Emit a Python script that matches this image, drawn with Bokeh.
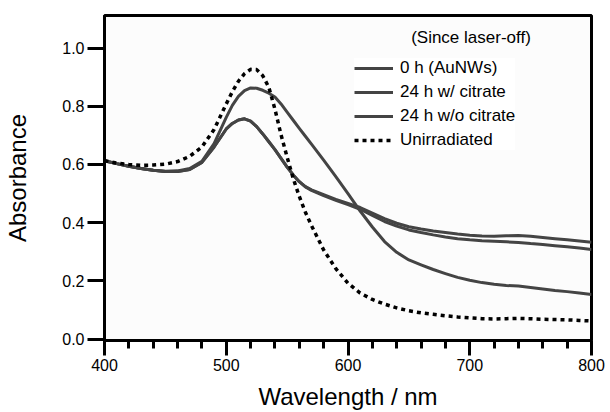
from bokeh.plotting import figure
from bokeh.models import Range1d, FixedTicker, PrintfTickFormatter, Legend, LegendItem, Label
from bokeh.embed import file_html
from bokeh.resources import INLINE

# ---- data ----
wavelength = [400, 410, 420, 430, 440, 450, 460, 470, 480, 490, 500,
              505, 510, 515, 520, 525, 530, 535, 540, 545, 550, 555, 560, 565, 570,
              580, 590, 600, 610, 620, 630, 640, 650, 660, 670, 680, 690, 700,
              710, 720, 730, 740, 750, 760, 770, 780, 790, 800]

abs_0h_aunws = [0.613, 0.603, 0.594, 0.586, 0.580, 0.576, 0.576, 0.583, 0.607, 0.660, 0.722,
                0.741, 0.753, 0.757, 0.749, 0.730, 0.705, 0.678, 0.651, 0.621, 0.591, 0.564, 0.541, 0.524, 0.513,
                0.496, 0.480, 0.466, 0.452, 0.433, 0.414, 0.398, 0.386, 0.378, 0.371, 0.366, 0.361, 0.357,
                0.354, 0.353, 0.355, 0.356, 0.353, 0.349, 0.345, 0.341, 0.337, 0.333]

abs_24h_citrate = [0.613, 0.603, 0.594, 0.586, 0.580, 0.577, 0.578, 0.586, 0.611, 0.672, 0.762,
                   0.803, 0.834, 0.854, 0.863, 0.862, 0.855, 0.845, 0.832, 0.808, 0.780, 0.752, 0.724, 0.697, 0.670,
                   0.615, 0.558, 0.500, 0.440, 0.385, 0.335, 0.298, 0.272, 0.255, 0.239, 0.225, 0.212, 0.202,
                   0.194, 0.188, 0.184, 0.182, 0.177, 0.172, 0.167, 0.163, 0.158, 0.153]

abs_24h_no_citrate = [0.613, 0.603, 0.594, 0.586, 0.580, 0.576, 0.576, 0.583, 0.607, 0.660, 0.722,
                      0.741, 0.753, 0.757, 0.749, 0.730, 0.705, 0.678, 0.651, 0.621, 0.591, 0.564, 0.541, 0.523, 0.511,
                      0.493, 0.477, 0.462, 0.446, 0.425, 0.404, 0.388, 0.375, 0.366, 0.358, 0.351, 0.345, 0.341,
                      0.338, 0.336, 0.334, 0.332, 0.328, 0.325, 0.321, 0.317, 0.313, 0.308]

abs_unirradiated = [0.613, 0.605, 0.600, 0.597, 0.598, 0.601, 0.610, 0.628, 0.660, 0.720, 0.808,
                    0.850, 0.886, 0.912, 0.927, 0.926, 0.905, 0.865, 0.790, 0.702, 0.625, 0.552, 0.490, 0.436, 0.390,
                    0.306, 0.242, 0.192, 0.158, 0.136, 0.120, 0.107, 0.097, 0.090, 0.085, 0.080, 0.076, 0.073,
                    0.070, 0.069, 0.070, 0.071, 0.070, 0.068, 0.067, 0.066, 0.064, 0.062]

series_labels = ["0 h (AuNWs)", "24 h w/ citrate", "24 h w/o citrate", "Unirradiated"]
legend_title = "(Since laser-off)"

x_major_ticks = [400, 500, 600, 700, 800]
x_minor_ticks = [420, 440, 460, 480, 520, 540, 560, 580, 620, 640, 660, 680, 720, 740, 760, 780]
y_major_ticks = [0.0, 0.2, 0.4, 0.6, 0.8, 1.0]

FONT = "Liberation Sans"
SOLID = "#444444"

p = figure(width=610, height=412, output_backend="svg", toolbar_location=None,
           x_range=Range1d(400, 800), y_range=Range1d(-0.005, 1.112),
           min_border_left=104, min_border_right=19, min_border_top=15, min_border_bottom=72,
           background_fill_color="#fcfcfc", border_fill_color="white")

p.outline_line_color = "black"
p.outline_line_width = 3
p.xgrid.grid_line_color = None
p.ygrid.grid_line_color = None

r0 = p.line(wavelength, abs_0h_aunws, line_color=SOLID, line_width=3, line_join="round")
r1 = p.line(wavelength, abs_24h_citrate, line_color=SOLID, line_width=3, line_join="round")
r2 = p.line(wavelength, abs_24h_no_citrate, line_color=SOLID, line_width=3, line_join="round")
r3 = p.line(wavelength, abs_unirradiated, line_color="black", line_width=3.5, line_dash="4 4")

# axes
xa = p.xaxis[0]
xa.ticker = FixedTicker(ticks=x_major_ticks, minor_ticks=x_minor_ticks)
xa.axis_label = "Wavelength / nm"
ya = p.yaxis[0]
ya.ticker = FixedTicker(ticks=y_major_ticks)
ya.formatter = PrintfTickFormatter(format="%.1f")
ya.axis_label = "Absorbance"

for ax in (xa, ya):
    ax.axis_line_width = 3
    ax.axis_line_color = "black"
    ax.major_tick_line_width = 3
    ax.major_tick_line_color = "black"
    ax.major_tick_in = 0
    ax.minor_tick_in = 0
    ax.major_label_text_font = FONT
    ax.major_label_text_font_size = "16px"
    ax.major_label_text_color = "black"
    ax.axis_label_text_font = FONT
    ax.axis_label_text_font_size = "24px"
    ax.axis_label_text_font_style = "normal"
    ax.axis_label_text_color = "black"

xa.major_tick_out = 15
xa.minor_tick_out = 8
xa.minor_tick_line_width = 3
xa.minor_tick_line_color = "black"
xa.major_label_standoff = 3
xa.axis_label_standoff = 9

ya.major_tick_out = 17
ya.minor_tick_line_color = None
ya.major_label_standoff = 3
ya.axis_label_standoff = 28

legend = Legend(items=[LegendItem(label=series_labels[0], renderers=[r0]),
                       LegendItem(label=series_labels[1], renderers=[r1]),
                       LegendItem(label=series_labels[2], renderers=[r2]),
                       LegendItem(label=series_labels[3], renderers=[r3])],
                location=(250, 190), padding=0, margin=0, spacing=4,
                glyph_width=39, glyph_height=20, label_height=20, label_standoff=7,
                label_text_font=FONT, label_text_font_size="17px", label_text_color="black",
                border_line_color=None, background_fill_color="white", background_fill_alpha=1.0)
p.add_layout(legend)

title_label = Label(x=701, y=1.038, text=legend_title, text_align="center", text_baseline="middle",
                    text_font=FONT, text_font_size="17px", text_color="black")
p.add_layout(title_label)

open("out.html", "w").write(file_html(p, INLINE))
